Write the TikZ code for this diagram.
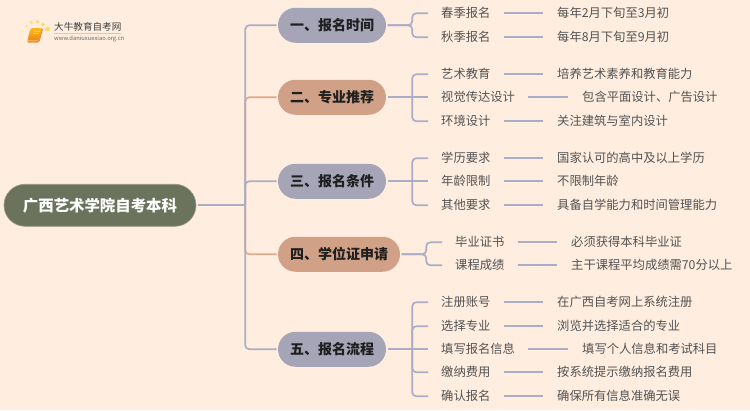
\documentclass[tikz,border=0pt]{standalone}
\usepackage{fontspec}
\setmainfont{Noto Sans CJK SC}
\setsansfont{Noto Sans CJK SC}
\definecolor{bg}{HTML}{FFEEE0}
\definecolor{hblue}{HTML}{A5A5B7}
\definecolor{horange}{HTML}{D0A087}
\definecolor{hroot}{HTML}{6B735C}
\definecolor{cblue}{HTML}{A9ADC6}
\definecolor{corange}{HTML}{DFA98C}
\definecolor{ld}{HTML}{F0902A}
\definecolor{lg}{HTML}{FFB81C}
\definecolor{lo}{HTML}{EE8A14}
\tikzset{
  conn/.style={line width=1.7pt,draw=cblue,rounded corners=4pt},
  connor/.style={line width=1.7pt,draw=corange,rounded corners=4pt},
  rootbox/.style={rectangle,rounded corners=21pt,fill=hroot,draw=hroot!70!bg,line width=0.6pt,minimum width=192pt,minimum height=42pt,text=white,font=\fontsize{15.4pt}{18pt}\selectfont\bfseries,inner sep=0pt,outer sep=1.5pt},
  headbox/.style={rectangle,rounded corners=17.5pt,minimum height=35pt,inner sep=0pt,outer sep=1.5pt,text=black!88,font=\fontsize{14pt}{17pt}\selectfont\bfseries},
  hb/.style={headbox,fill=hblue},
  ho/.style={headbox,fill=horange},
  leaf/.style={anchor=west,inner xsep=13pt,inner ysep=0pt,text height=10.5pt,text depth=1.5pt,text=black!68,font=\fontsize{12.3pt}{14pt}\selectfont},
  val/.style={leaf,inner xsep=14pt},
  logotext/.style={anchor=west,inner sep=0pt,text=black!75}
}
\begin{document}
\begin{tikzpicture}[x=1pt,y=-1pt]
\useasboundingbox[fill=bg] (0,0) rectangle (750,410);
% central
\node[rootbox] (root) at (100,205.25) {广西艺术学院自考本科};
\node[hb,minimum width=108pt] (h1) at (332,25.25) {一、报名时间};
\node[ho,minimum width=108pt] (h2) at (332,97.25) {二、专业推荐};
\node[hb,minimum width=108pt] (h3) at (332,181.25) {三、报名条件};
\node[ho,minimum width=122pt] (h4) at (339,254.25) {四、学位证申请};
\node[hb,minimum width=108pt] (h5) at (332,349.25) {五、报名流程};
\coordinate (t) at (245.25,205.25);
% trunk
\draw[connor] (t) |- (h2.west);
\draw[connor] (t) |- (h4.west);
\draw[conn] (root.east) -- (t);
\draw[conn] (t) |- (h1.west);
\draw[conn] (t) |- (h3.west);
\draw[conn] (t) |- (h5.west);
% leaves
\node[leaf] (a1) at (428,13.25) {春季报名};
\node[leaf] (a2) at (428,37.25) {秋季报名};
\node[val] (va1) at (543,13.25) {每年2月下旬至3月初};
\node[val] (va2) at (543,37.25) {每年8月下旬至9月初};
\node[leaf] (b1) at (428,74.25) {艺术教育};
\node[leaf] (b2) at (428,97.25) {视觉传达设计};
\node[leaf] (b3) at (428,121.25) {环境设计};
\node[val] (vb1) at (543,74.25) {培养艺术素养和教育能力};
\node[val] (vb2) at (568,97.25) {包含平面设计、广告设计};
\node[val] (vb3) at (543,121.25) {关注建筑与室内设计};
\node[leaf] (c1) at (428,158.25) {学历要求};
\node[leaf] (c2) at (428,181.25) {年龄限制};
\node[leaf] (c3) at (428,205.25) {其他要求};
\node[val] (vc1) at (543,158.25) {国家认可的高中及以上学历};
\node[val] (vc2) at (543,181.25) {不限制年龄};
\node[val] (vc3) at (543,205.25) {具备自学能力和时间管理能力};
\node[leaf] (d1) at (442,242.25) {毕业证书};
\node[leaf] (d2) at (442,265.25) {课程成绩};
\node[val] (vd1) at (557,242.25) {必须获得本科毕业证};
\node[val] (vd2) at (557,265.25) {主干课程平均成绩需70分以上};
\node[leaf] (e1) at (428,302.25) {注册账号};
\node[leaf] (e2) at (428,326.25) {选择专业};
\node[leaf] (e3) at (428,349.25) {填写报名信息};
\node[leaf] (e4) at (428,372.25) {缴纳费用};
\node[leaf] (e5) at (428,396.25) {确认报名};
\node[val] (ve1) at (543,302.25) {在广西自考网上系统注册};
\node[val] (ve2) at (543,326.25) {浏览并选择适合的专业};
\node[val] (ve3) at (568,349.25) {填写个人信息和考试科目};
\node[val] (ve4) at (543,372.25) {按系统提示缴纳报名费用};
\node[val] (ve5) at (543,396.25) {确保所有信息准确无误};
% junctions
\coordinate (j1) at (412.25,25.25);
\coordinate (j2) at (412.25,97.25);
\coordinate (j3) at (412.25,181.25);
\coordinate (j4) at (426.25,254.25);
\coordinate (j5) at (412.25,349.25);
\draw[conn] (h1.east) -- (j1) |- (a1.west);
\draw[conn] (h1.east) -- (j1) |- (a2.west);
\draw[conn] (h2.east) -- (b2.west);
\draw[conn] (j2) |- (b1.west);
\draw[conn] (j2) |- (b3.west);
\draw[conn] (h3.east) -- (c2.west);
\draw[conn] (j3) |- (c1.west);
\draw[conn] (j3) |- (c3.west);
\draw[conn] (h4.east) -- (j4) |- (d1.west);
\draw[conn] (h4.east) -- (j4) |- (d2.west);
\draw[conn] (h5.east) -- (e3.west);
\draw[conn] (j5) |- (e1.west);
\draw[conn] (j5) |- (e2.west);
\draw[conn] (j5) |- (e4.west);
\draw[conn] (j5) |- (e5.west);
\draw[conn] (a1.east) -- (va1.west);
\draw[conn] (a2.east) -- (va2.west);
\draw[conn] (b1.east) -- (vb1.west);
\draw[conn] (b2.east) -- (vb2.west);
\draw[conn] (b3.east) -- (vb3.west);
\draw[conn] (c1.east) -- (vc1.west);
\draw[conn] (c2.east) -- (vc2.west);
\draw[conn] (c3.east) -- (vc3.west);
\draw[conn] (d1.east) -- (vd1.west);
\draw[conn] (d2.east) -- (vd2.west);
\draw[conn] (e1.east) -- (ve1.west);
\draw[conn] (e2.east) -- (ve2.west);
\draw[conn] (e3.east) -- (ve3.west);
\draw[conn] (e4.east) -- (ve4.west);
\draw[conn] (e5.east) -- (ve5.west);
% logo
\foreach \x/\y/\r/\c in {47.5/29/2.4/FFD966,43/24.5/1.9/FFD966,37.5/22/1.8/FFD966,31.5/22.5/1.8/FFDD77,26.5/26/1.4/FFE08A,22.5/31/1.2/FFE7A6,22/37/1/FFEBB8,23/42.5/0.8/FFF0CC}{
  \definecolor{dc}{HTML}{\c}
  \fill[dc] (\x,\y) circle (\r);
}
\fill[ld!70!white,rounded corners=1pt] (30,30) -- (42,30) -- (38.5,42.5) -- (27,42.5) -- cycle;
\shade[top color=lg,bottom color=lo,rounded corners=1pt] (31,28) -- (42.5,28) -- (38.8,40) -- (27.5,40) -- cycle;
\draw[lo,line width=0.9pt,rounded corners=1pt] (42.5,29) -- (39,41.8) -- (28,41.8);
\draw[white!35!lg,line width=0.7pt] (33.5,31) -- (40,31) (33,33.5) -- (39.3,33.5);
\node[logotext,font=\fontsize{9.6pt}{11pt}\selectfont] (lt) at (54,27) {大牛教育自考网};
\draw[black!20,line width=0.4pt] (54,33.5) -- (121,33.5);
\node[logotext,font=\fontsize{5.8pt}{7pt}\selectfont,text=black!60] (lu) at (54,38.5) {www.daniuxuexiao.org.cn};
\end{tikzpicture}
\end{document}
